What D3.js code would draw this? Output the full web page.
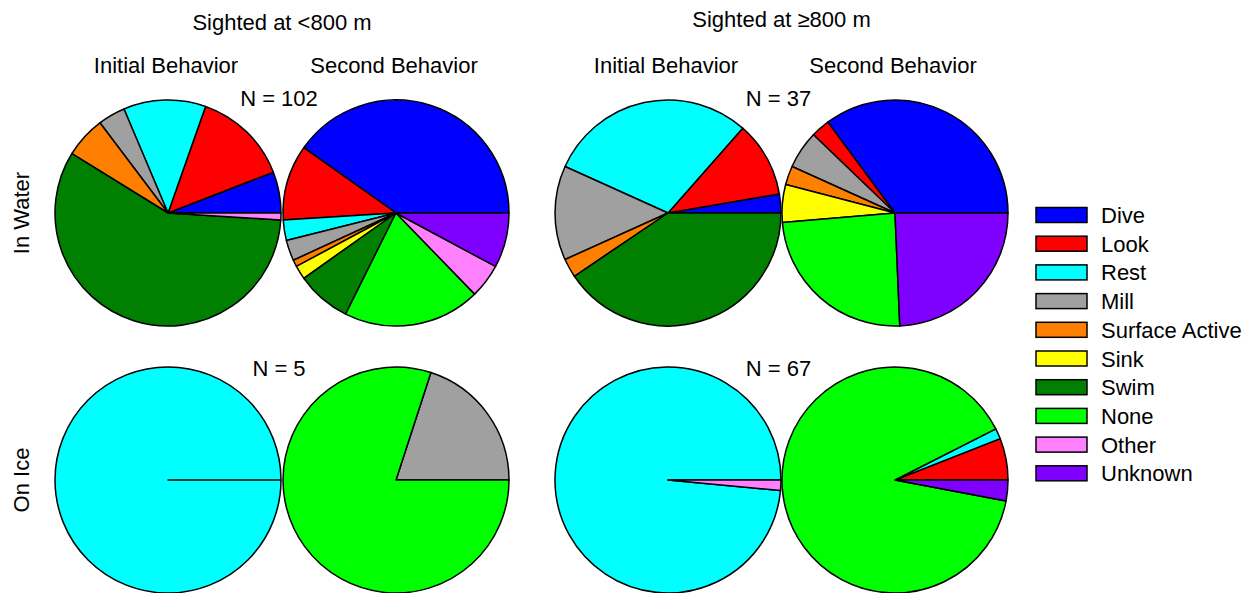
<!DOCTYPE html>
<html>
<head>
<meta charset="utf-8">
<script src="https://cdn.jsdelivr.net/npm/d3@7"></script>
<style>
  body { margin: 0; background: #fff; }
  text { font-family: "Liberation Sans", Arial, sans-serif; font-size: 22px; fill: #000; }
</style>
</head>
<body>
<div id="chart"></div>
<script>
// behaviour categories and their colours (legend order = slice order)
const categories = ["Dive", "Look", "Rest", "Mill", "Surface Active", "Sink", "Swim", "None", "Other", "Unknown"];
const colors = ["#0000FF", "#FF0000", "#00FFFF", "#A0A0A0", "#FF8000", "#FFFF00", "#007F00", "#00FF00", "#FF80FF", "#8000FF"];

// counts per category
const waterNearInitial = [6, 14, 12, 4, 6, 0, 59, 0, 1, 0];
const waterNearSecond  = [41, 11, 3, 3, 1, 2, 8, 20, 5, 8];
const waterFarInitial  = [1, 4, 11, 5, 1, 0, 15, 0, 0, 0];
const waterFarSecond   = [13, 1, 0, 2, 1, 2, 0, 9, 0, 9];
const iceNearInitial   = [0, 0, 5, 0, 0, 0, 0, 0, 0, 0];
const iceNearSecond    = [0, 0, 0, 1, 0, 0, 0, 4, 0, 0];
const iceFarInitial    = [0, 0, 66, 0, 0, 0, 0, 0, 1, 0];
const iceFarSecond     = [0, 4, 1, 0, 0, 0, 0, 60, 0, 2];

const columnTitles = ["Sighted at <800 m", "Sighted at \u2265800 m"];
const pieTitles = ["Initial Behavior", "Second Behavior"];
const rowTitles = ["In Water", "On Ice"];

let width = 1258, height = 593;
let radius = 113;

let svg = d3.select("#chart").append("svg")
  .attr("width", width)
  .attr("height", height);

let color = d3.scaleOrdinal().domain(categories).range(colors);

// panel positions
let rowY = [213, 480];
let pieX = [[168, 396], [668, 895]];

let panels = [
  { row: 0, col: 0, data: [waterNearInitial, waterNearSecond] },
  { row: 0, col: 1, data: [waterFarInitial, waterFarSecond] },
  { row: 1, col: 0, data: [iceNearInitial, iceNearSecond] },
  { row: 1, col: 1, data: [iceFarInitial, iceFarSecond] }
];

// angles counter-clockwise from 3 o'clock, like R's pie()
let pie = d3.pie().sort(null).value(function (d) { return d.value; })
  .startAngle(0).endAngle(2 * Math.PI);

function slicePath(cx, cy, a0, a1) {
  let p = d3.path();
  p.moveTo(cx, cy);
  p.lineTo(cx + radius * Math.cos(a0), cy - radius * Math.sin(a0));
  p.arc(cx, cy, radius, -a0, -a1, true);
  p.closePath();
  return p.toString();
}

panels.forEach(function (panel) {
  let cy = rowY[panel.row];
  panel.data.forEach(function (counts, k) {
    let cx = pieX[panel.col][k];
    let rows = categories.map(function (c, i) { return { name: c, value: counts[i] }; });
    let arcs = pie(rows).filter(function (d) { return d.value > 0; });
    svg.append("g").selectAll("path")
      .data(arcs)
      .enter()
      .append("path")
      .attr("d", function (d) { return slicePath(cx, cy, d.startAngle, d.endAngle); })
      .attr("fill", function (d) { return color(d.data.name); })
      .attr("stroke", "#000")
      .attr("stroke-width", 1.5)
      .attr("stroke-linejoin", "round");
  });

  let n = d3.sum(panel.data[0]);
  svg.append("text")
    .attr("x", (pieX[panel.col][0] + pieX[panel.col][1]) / 2 - 3)
    .attr("y", panel.row === 0 ? 106 : 376)
    .attr("text-anchor", "middle")
    .text("N = " + n);
});

// column titles and pie headings
columnTitles.forEach(function (t, c) {
  svg.append("text")
    .attr("x", (pieX[c][0] + pieX[c][1]) / 2)
    .attr("y", c === 0 ? 30 : 27)
    .attr("text-anchor", "middle")
    .text(t);
  pieTitles.forEach(function (h, k) {
    svg.append("text")
      .attr("x", pieX[c][k] - 2)
      .attr("y", 73)
      .attr("text-anchor", "middle")
      .text(h);
  });
});

// row labels
rowTitles.forEach(function (t, r) {
  svg.append("text")
    .attr("transform", "translate(29," + rowY[r] + ") rotate(-90)")
    .attr("text-anchor", "middle")
    .text(t);
});

// legend
let legend = svg.append("g").attr("transform", "translate(1036,215)");
let item = legend.selectAll("g")
  .data(categories)
  .enter()
  .append("g")
  .attr("transform", function (d, i) { return "translate(0," + (i * 28.7) + ")"; });

item.append("rect")
  .attr("x", 0)
  .attr("y", -7.5)
  .attr("width", 51)
  .attr("height", 15)
  .attr("fill", function (d) { return color(d); })
  .attr("stroke", "#000")
  .attr("stroke-width", 1.5);

item.append("text")
  .attr("x", 65)
  .attr("y", 8)
  .text(function (d) { return d; });
</script>
</body>
</html>
